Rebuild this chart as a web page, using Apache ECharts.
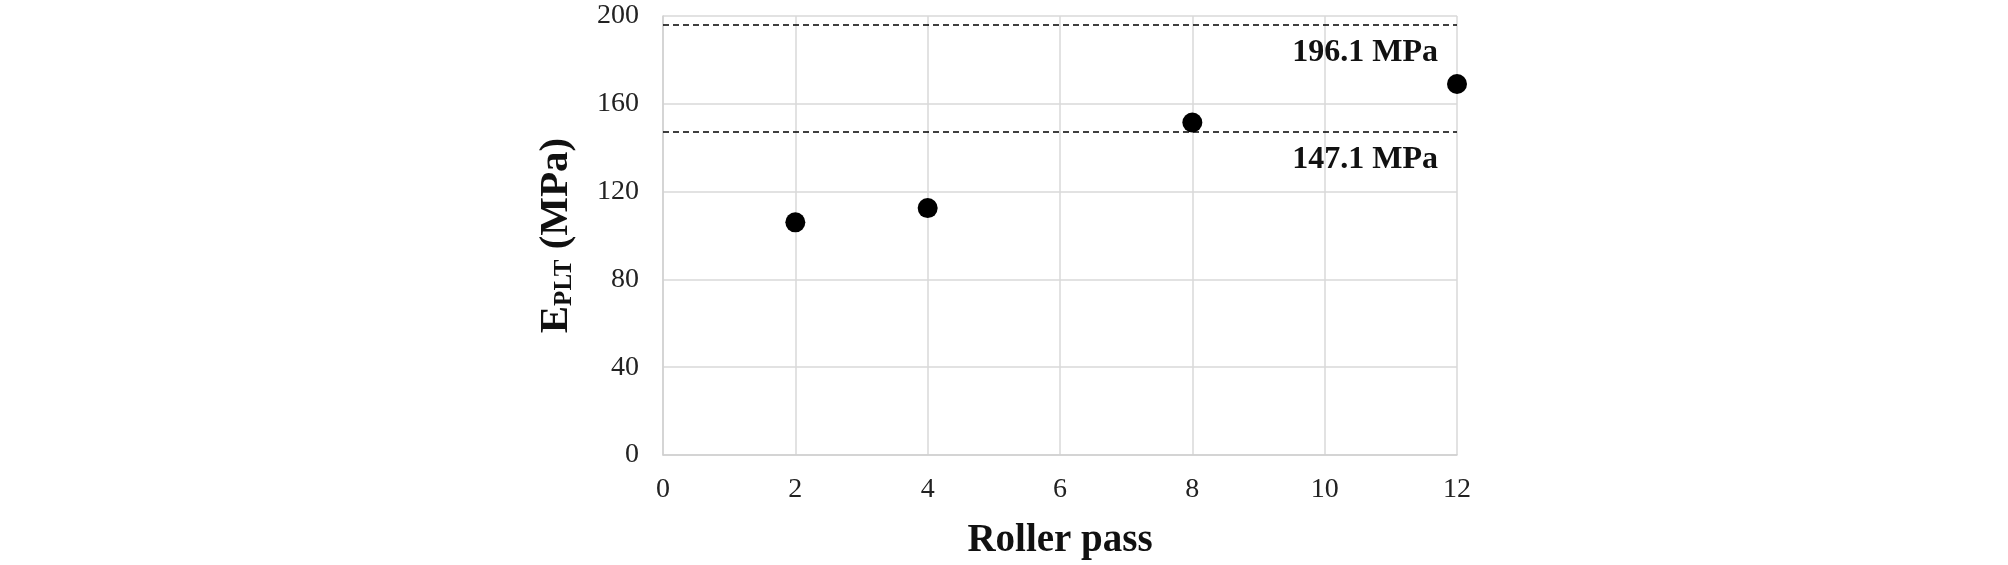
<!DOCTYPE html>
<html>
<head>
<meta charset="utf-8">
<script src="https://cdn.jsdelivr.net/npm/echarts@6/dist/echarts.min.js"></script>
<style>
html,body{margin:0;padding:0;background:#fff;}
#chart{width:2008px;height:565px;}
</style>
</head>
<body>
<div id="chart"></div>
<script>
// Data
const rollerPass = [2, 4, 8, 12];
const ePLT = [106, 112.5, 151.5, 169];
const refValues = [196.1, 147.1];
const refLabels = ['196.1 MPa', '147.1 MPa'];
const xTicks = [0, 2, 4, 6, 8, 10, 12];
const yTicks = [0, 40, 80, 120, 160, 200];

const serif = 'Liberation Serif, Times New Roman, serif';
const chart = echarts.init(document.getElementById('chart'), null, {renderer: 'canvas'});

const points = rollerPass.map((x, i) => [x, ePLT[i]]);
const markData = refValues.map((v, i) => ({
  yAxis: v,
  label: {formatter: refLabels[i]}
}));

chart.setOption({
  animation: false,
  backgroundColor: '#ffffff',
  grid: {left: 663, right: 551, top: 16, bottom: 107, containLabel: false},
  xAxis: {
    type: 'value',
    min: xTicks[0],
    max: xTicks[xTicks.length - 1],
    interval: 2,
    name: 'Roller pass',
    nameLocation: 'middle',
    nameGap: 66,
    nameTextStyle: {fontFamily: serif, fontWeight: 'bold', fontSize: 39, color: '#111'},
    axisLine: {show: true, lineStyle: {color: '#d0d0d0', width: 1.5}},
    axisTick: {show: false},
    axisLabel: {fontFamily: serif, fontSize: 28, color: '#222', margin: 21},
    splitLine: {show: true, lineStyle: {color: '#d9d9d9', width: 1.5}}
  },
  yAxis: {
    type: 'value',
    min: yTicks[0],
    max: yTicks[yTicks.length - 1],
    interval: 40,
    name: '{e|E}{s|PLT}{n| (MPa)}',
    nameLocation: 'middle',
    nameGap: 86,
    nameTextStyle: {
      fontFamily: serif, fontWeight: 'bold', fontSize: 41, color: '#111',
      rich: {
        e: {fontFamily: serif, fontWeight: 'bold', fontSize: 41, color: '#111', verticalAlign: 'bottom'},
        s: {fontFamily: serif, fontWeight: 'bold', fontSize: 25, color: '#111', verticalAlign: 'bottom'},
        n: {fontFamily: serif, fontWeight: 'bold', fontSize: 41, color: '#111', verticalAlign: 'bottom'}
      }
    },
    axisLine: {show: true, lineStyle: {color: '#d0d0d0', width: 1.5}},
    axisTick: {show: false},
    axisLabel: {fontFamily: serif, fontSize: 28, color: '#222', margin: 24},
    splitLine: {show: true, lineStyle: {color: '#d9d9d9', width: 1.5}}
  },
  series: [{
    type: 'scatter',
    data: points,
    symbol: 'circle',
    symbolSize: 20,
    itemStyle: {color: '#000', opacity: 1},
    markLine: {
      silent: true,
      symbol: ['none', 'none'],
      lineStyle: {color: '#000', type: [6, 4], width: 1.5, opacity: 1},
      label: {
        show: true,
        position: 'insideEndBottom',
        distance: [19, 12],
        fontFamily: serif, fontWeight: 'bold', fontSize: 32, color: '#111'
      },
      data: markData
    }
  }]
});
</script>
</body>
</html>
